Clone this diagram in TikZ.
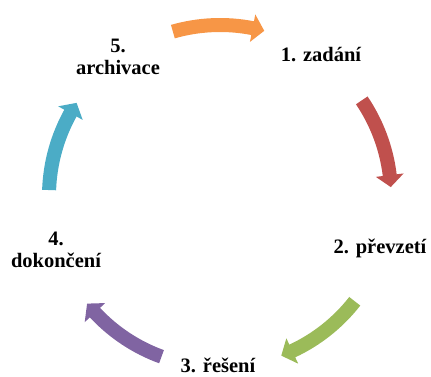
\documentclass[tikz,border=0pt]{standalone}
\usepackage{fontspec}
\setmainfont{Liberation Serif}
\begin{document}
\begin{tikzpicture}[x=1pt,y=1pt,
  steplabel/.style={font=\bfseries\fontsize{20.5}{22}\selectfont, align=center, inner sep=0pt}]
\definecolor{accorange}{HTML}{F79646}
\definecolor{accred}{HTML}{C0504D}
\definecolor{accgreen}{HTML}{9BBB59}
\definecolor{accpurple}{HTML}{8064A2}
\definecolor{accblue}{HTML}{4BACC6}
\useasboundingbox (0,0) rectangle (431,376);
% curved block arrow on the cycle circle: colour, tail angle, tip angle
\newcommand{\cyclearrow}[3]{%
  \fill[#1] (#2:164pt) arc[start angle=#2, end angle=#3+4, radius=164pt]
    -- (#3+4:157pt) -- (#3:171pt) -- (#3+4:185pt) -- (#3+4:178pt)
    arc[start angle=#3+4, end angle=#2, radius=178pt] -- cycle;}
\begin{scope}[shift={(220,180)}]
  \cyclearrow{accorange}{106}{75}
  \cyclearrow{accred}{34}{3}
  \cyclearrow{accgreen}{-38}{-69}
  \cyclearrow{accpurple}{-110}{-141}
  \cyclearrow{accblue}{178}{147}
\end{scope}
\node[steplabel] (s1) at (321,321) {1. zadání};
\node[steplabel] (s2) at (380,128) {2. převzetí};
\node[steplabel] (s3) at (218,11) {3. řešení};
\node[steplabel] (s4) at (56,126) {4.\\dokončení};
\node[steplabel] (s5) at (118,319) {5.\\archivace};
\end{tikzpicture}
\end{document}
